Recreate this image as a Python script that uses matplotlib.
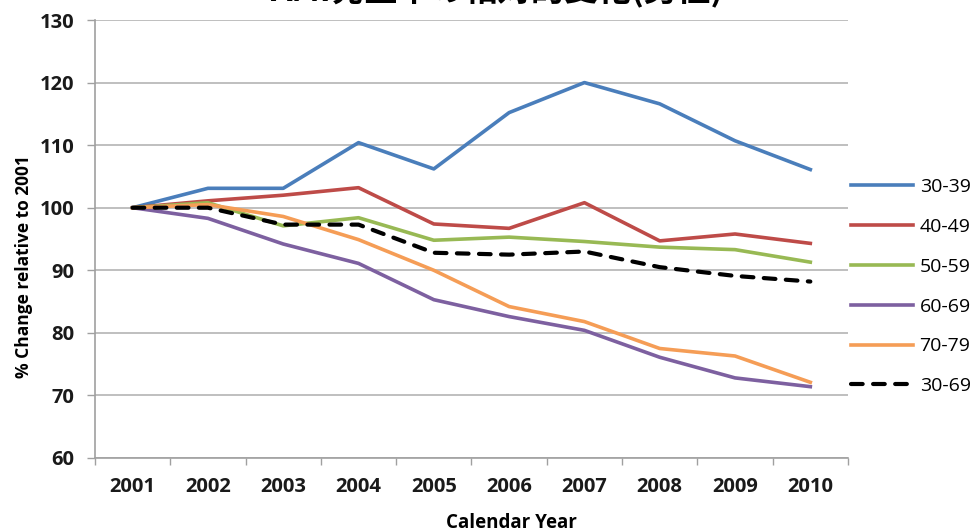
import numpy as np
import matplotlib
matplotlib.use("Agg")
from matplotlib import pyplot as plt
from matplotlib.ticker import MultipleLocator, FixedLocator

plt.rcParams['font.family'] = ['Open Sans', 'Noto Sans CJK JP', 'DejaVu Sans']

years = ['2001', '2002', '2003', '2004', '2005', '2006', '2007', '2008', '2009', '2010']
g30_39 = [100, 103.1, 103.1, 110.4, 106.2, 115.2, 120.0, 116.6, 110.7, 106.1]
g40_49 = [100, 101.1, 102.0, 103.2, 97.4, 96.7, 100.8, 94.7, 95.8, 94.3]
g50_59 = [100, 100.8, 97.1, 98.4, 94.8, 95.3, 94.6, 93.7, 93.3, 91.3]
g60_69 = [100, 98.3, 94.2, 91.1, 85.3, 82.6, 80.4, 76.1, 72.8, 71.4]
g70_79 = [100, 100.5, 98.6, 94.9, 90.0, 84.2, 81.8, 77.5, 76.3, 72.1]
g30_69 = [100, 100.0, 97.3, 97.3, 92.8, 92.5, 93.0, 90.5, 89.1, 88.2]

fig = plt.figure(figsize=(9.71, 5.32), dpi=100)
ax = fig.add_axes([0.0978, 0.1391, 0.7755, 0.8233])

x = np.arange(len(years))
ax.plot(x, g30_39, color='#4A7EBB', lw=2.6, label='30-39')
ax.plot(x, g40_49, color='#BE4B48', lw=2.6, label='40-49')
ax.plot(x, g50_59, color='#98B954', lw=2.6, label='50-59')
ax.plot(x, g60_69, color='#7D60A0', lw=2.6, label='60-69')
ax.plot(x, g70_79, color='#F59D56', lw=2.6, label='70-79')
ax.plot(x, g30_69, color='black', lw=3.0, ls=(0, (2.8, 2.5)), dash_capstyle='round',
        label='30-69')

ax.set_xlim(-0.5, 9.5)
ax.set_ylim(60, 130)
ax.yaxis.set_major_locator(MultipleLocator(10))
ax.set_xticks(x)
ax.set_xticklabels(years)
ax.xaxis.set_minor_locator(FixedLocator(np.arange(-0.5, 10, 1)))
ax.tick_params(axis='x', which='major', length=0, pad=14, labelsize=14.5)
ax.tick_params(axis='x', which='minor', length=5, width=1, color='#a0a0a0', direction='out')
ax.tick_params(axis='y', length=6, width=1, color='#a0a0a0', pad=9, labelsize=14.5)
for lab in ax.get_xticklabels() + ax.get_yticklabels():
    lab.set_fontweight('bold')
    lab.set_color('#1a1a1a')

ax.grid(axis='y', color='#b4b4b4', lw=1.2)
ax.set_axisbelow(True)
for s in ['top', 'right']:
    ax.spines[s].set_visible(False)
ax.spines['left'].set_color('#a0a0a0')
ax.spines['bottom'].set_color('#a0a0a0')
ax.spines['left'].set_linewidth(1.2)
ax.spines['bottom'].set_linewidth(1.2)

ax.set_ylabel('% Change relative to 2001', fontsize=12.5, fontweight='bold')
ax.yaxis.set_label_coords(-0.082, 0.436)
ax.set_xlabel('Calendar Year', fontsize=13.5, fontweight='bold')
ax.xaxis.set_label_coords(0.553, -0.125)

# title is clipped at the top edge in the original slide
fig.text(0.512, 0.985, 'AMI発生率の相対的変化(男性)', ha='center', va='bottom',
         fontsize=24, fontweight='bold', family=['Noto Sans CJK JP', 'DejaVu Sans'])

ax.legend(loc='upper left', bbox_to_anchor=(0.876, 0.665), bbox_transform=fig.transFigure,
          frameon=False, fontsize=14, handlelength=3.2, handletextpad=0.35,
          labelspacing=1.12, borderpad=0, borderaxespad=0)

fig.savefig('out.png', dpi=100)
